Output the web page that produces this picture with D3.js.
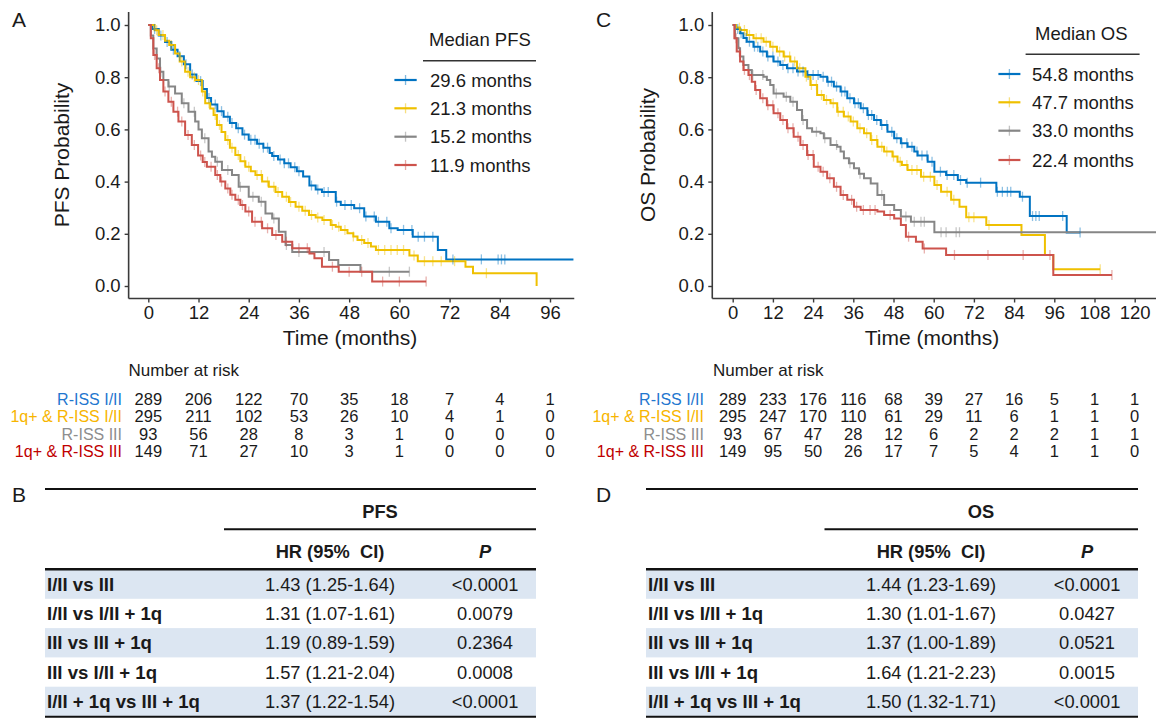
<!DOCTYPE html>
<html>
<head>
<meta charset="utf-8">
<script src="https://cdn.jsdelivr.net/npm/d3@7"></script>
<style>
  body { margin: 0; background: #fff; }
  svg text { font-family: "Liberation Sans", Arial, Helvetica, sans-serif; }
</style>
</head>
<body>
<svg id="fig" width="1156" height="718"></svg>
<script>
// ---------- groups ----------
const groupLabels = ["R-ISS I/II", "1q+ & R-ISS I/II", "R-ISS III", "1q+ & R-ISS III"];
const curveColors = ["#0073C2", "#EFC000", "#868686", "#CD534C"];
const labelColors = ["#1F77CF", "#F7B500", "#8E8E8E", "#C00000"];

// ---------- PFS (months, survival probability; step after) ----------
const pfsTicks = [0, 12, 24, 36, 48, 60, 72, 84, 96];
const pfsMedians = ["29.6 months", "21.3 months", "15.2 months", "11.9 months"];
const pfsRissI_II = [[0,1],[1,0.985],[2.5,0.96],[4,0.935],[5.5,0.905],[7,0.88],[8.5,0.85],[10,0.81],[11.5,0.785],[13,0.755],[14,0.72],[15,0.695],[16.5,0.67],[18,0.648],[19.5,0.625],[21,0.604],[22.5,0.58],[24,0.56],[26,0.545],[27.5,0.53],[29,0.51],[29.6,0.498],[31,0.485],[32.5,0.47],[34,0.455],[35.5,0.44],[37,0.42],[38.5,0.385],[40,0.37],[41.5,0.36],[44.8,0.323],[46,0.31],[49.2,0.298],[51.6,0.266],[54.4,0.246],[57.6,0.221],[59.6,0.215],[63.2,0.189],[69.2,0.138],[71.2,0.102]];
const pfs1qRissI_II = [[0,1],[1.5,0.98],[2.5,0.962],[4,0.94],[5,0.923],[6.4,0.891],[7.5,0.86],[8.8,0.821],[10,0.8],[11.2,0.789],[12.8,0.745],[13.6,0.7],[14.8,0.68],[15.6,0.655],[16.4,0.617],[17.5,0.59],[18.4,0.559],[19.5,0.53],[20.8,0.502],[22,0.478],[23.2,0.457],[24.5,0.44],[25.6,0.425],[27.2,0.4],[28.8,0.38],[30.4,0.36],[32,0.342],[33.6,0.322],[35.2,0.304],[36.8,0.288],[38.4,0.272],[40,0.262],[41.6,0.253],[43.6,0.234],[44.8,0.227],[46,0.215],[47.6,0.202],[49,0.19],[50,0.176],[51.6,0.165],[53.2,0.151],[54.4,0.138],[62.4,0.117],[64.4,0.095],[75.8,0.074],[77.6,0.049],[92.8,0]];
const pfsRissIII = [[0,1],[0.6,0.96],[1.2,0.91],[2,0.872],[2.8,0.821],[3.6,0.789],[4.8,0.764],[6.4,0.738],[8,0.7],[9.6,0.668],[11.2,0.63],[12,0.6],[12.8,0.566],[14.4,0.515],[15.2,0.495],[16,0.476],[17.6,0.444],[20,0.425],[21.6,0.38],[24,0.342],[26.4,0.323],[28,0.278],[29.6,0.259],[31.2,0.208],[32.8,0.157],[34.4,0.13],[43.2,0.1],[45.4,0.08],[50.7,0.055]];
const pfs1qRissIII = [[0,1],[0.6,0.949],[1.2,0.885],[2,0.834],[2.8,0.789],[3.6,0.745],[4.8,0.706],[6,0.668],[7.2,0.63],[8.8,0.579],[10.4,0.54],[11.9,0.5],[13,0.475],[14,0.457],[16,0.425],[17.2,0.4],[18.4,0.374],[19.6,0.35],[20.8,0.33],[22,0.31],[23.2,0.285],[24.8,0.246],[27.2,0.221],[29.6,0.195],[32,0.17],[34.4,0.145],[38.5,0.125],[39.7,0.106],[41.5,0.074],[45.5,0.055],[53.5,0.017]];
const pfsLastFollowUp = [101.6, 92.8, 62.4, 66.4];
const pfsCensorRissI_II = [1.5,3,4.5,6,7.5,9,10.5,12.5,14.5,16,17.5,19,20,21.5,23,24.5,25.5,26.5,27.5,28.5,30,31.5,32.5,33.5,35,36,39,40.5,42,43,45,47,48.5,50.5,52,54,55,57,58,61,63,64.5,66,68,72.8,79.6,83.6,84.4,85.2];
const pfsCensor1qRissI_II = [2,3.5,5.5,8,9.5,11,12,13,14.5,16,17,19,20,21.5,23,24,26,27,28.5,30,31,33,34,36,37.5,39,40.5,42,44,45.5,47,49,51,52.5,55,56.5,58,59.5,61,63.5,66,68,70,73.2,80.8];
const pfsCensorRissIII = [3,5,8.5,11,13.5,16.5,19,22,25,27,30,33,36,42,57.6,62.4];
const pfsCensor1qRissIII = [1.5,2.5,4,5.5,7,8,9.5,11,12.5,13.5,15,16.5,17.5,19,20,21.5,22.5,24,25.5,27,28.5,30.5,33,36,38,44,48,51,56,60,66.4];
const pfsAtRisk = [
  [289, 206, 122, 70, 35, 18, 7, 4, 1],
  [295, 211, 102, 53, 26, 10, 4, 1, 0],
  [93, 56, 28, 8, 3, 1, 0, 0, 0],
  [149, 71, 27, 10, 3, 1, 0, 0, 0]
];

// ---------- OS ----------
const osTicks = [0, 12, 24, 36, 48, 60, 72, 84, 96, 108, 120];
const osMedians = ["54.8 months", "47.7 months", "33.0 months", "22.4 months"];
const osRissI_II = [[0,1],[1,0.985],[2.2,0.968],[3.2,0.95],[4.2,0.936],[6.2,0.917],[8.2,0.898],[10.2,0.879],[12.2,0.86],[14.2,0.847],[16.2,0.834],[19.2,0.822],[22.2,0.808],[26.2,0.802],[28.2,0.783],[30.2,0.764],[32.2,0.745],[34.2,0.719],[36.2,0.7],[38.2,0.681],[40.2,0.655],[42.2,0.636],[44.2,0.617],[46.2,0.591],[48.2,0.566],[50.2,0.547],[52.2,0.534],[54.2,0.515],[55.2,0.5],[58.2,0.476],[60.2,0.438],[63.7,0.425],[67.2,0.406],[69.7,0.396],[78.7,0.361],[85.7,0.342],[88.7,0.268],[99.7,0.205]];
const os1qRissI_II = [[0,1],[1,0.99],[2.2,0.981],[4.2,0.962],[6.2,0.949],[9.2,0.936],[11.2,0.917],[13.2,0.898],[15.2,0.879],[17.2,0.86],[19.2,0.834],[21.7,0.802],[23.2,0.77],[25.2,0.732],[27.2,0.713],[29.2,0.7],[31.2,0.668],[33.2,0.649],[35.2,0.63],[37.2,0.604],[39.2,0.585],[41.2,0.559],[43.2,0.534],[45.2,0.515],[47.7,0.496],[49.2,0.476],[50.5,0.464],[52.2,0.444],[56.2,0.419],[60.2,0.387],[62.2,0.361],[65.2,0.33],[67.7,0.304],[69.7,0.263],[75.7,0.234],[86.2,0.195],[93.2,0.119],[95.7,0.064]];
const osRissIII = [[0,1],[0.7,0.949],[1.7,0.911],[2.2,0.879],[3.2,0.847],[4.7,0.828],[5.7,0.808],[9.2,0.802],[10.2,0.789],[11.2,0.77],[12.2,0.738],[15.2,0.725],[17.2,0.706],[19.2,0.674],[20.7,0.636],[22.2,0.604],[23.7,0.591],[26.2,0.585],[27.2,0.566],[29.2,0.54],[31.2,0.534],[32.2,0.515],[33.2,0.489],[34.7,0.47],[36.2,0.451],[37.7,0.43],[39.2,0.413],[41.2,0.393],[43.2,0.349],[45.2,0.31],[48.2,0.291],[50.2,0.266],[53.2,0.246],[60.2,0.206]];
const os1qRissIII = [[0,1],[0.5,0.949],[1.2,0.898],[2.2,0.86],[3.2,0.828],[4.7,0.808],[5.7,0.783],[6.7,0.751],[8.2,0.719],[10.2,0.693],[12.2,0.662],[14.2,0.636],[16.2,0.604],[18.2,0.572],[20.2,0.54],[22.2,0.502],[24.2,0.457],[26.2,0.438],[28.2,0.413],[30.2,0.38],[32.2,0.349],[34.2,0.33],[36.2,0.304],[38.2,0.291],[43.2,0.285],[45.2,0.272],[48.2,0.259],[50.2,0.234],[51.7,0.189],[54.7,0.17],[56.7,0.144],[63.7,0.119],[95.7,0.042]];
const osLastFollowUp = [103.7, 109.7, 127, 113.2];
const osCensorRissI_II = [1.5,2.5,4,5,6.5,7.5,9,10.5,12,13.5,15,16.5,18,19.5,21,22.5,24,25.5,27,28.5,29.5,31,32.5,33.5,35,36.5,37.5,39,40.5,41.5,43,44.5,46,47.5,49,50.5,52,53.5,55,56.5,58,59.5,62,64,66,68,70,74,79,80.5,82,83,86.5,89.5,90.5,91.5,98.5,103.7];
const osCensor1qRissI_II = [2,3.5,5,7,8.5,10,12,14,15.5,17,18.5,20,22,23.5,25,26.5,28,30,31.5,33,34.5,36,38,40,41.5,43,44.5,46,48,50,52,53.5,55,57,59,61,64,66,70.5,72,76.5,109.7];
const osCensorRissIII = [6,9,13,16,18,21,25,27.5,31,35,38,44.5,51.7,54.2,56.2,57.2,62.2,63.7,66.7,67.7];
const osCensor1qRissIII = [1,2,3.5,5,7,9,10.5,12,13.5,15,16.5,18,19.5,21,22.5,24,25.5,27,29,31,33,35.5,37,39,41,42.5,47,52.5,57.2,66.2,76.2,86.7,94.7,113.2];
const osAtRisk = [
  [289, 233, 176, 116, 68, 39, 27, 16, 5, 1, 1],
  [295, 247, 170, 110, 61, 29, 11, 6, 1, 1, 0],
  [93, 67, 47, 28, 12, 6, 2, 2, 2, 1, 1],
  [149, 95, 50, 26, 17, 7, 5, 4, 1, 1, 0]
];

// ---------- hazard ratio tables ----------
const comparisons = ["I/II vs III", "I/II vs I/II + 1q", "III vs III + 1q", "III vs I/II + 1q", "I/II + 1q vs III + 1q"];
const pfsHR = ["1.43 (1.25-1.64)", "1.31 (1.07-1.61)", "1.19 (0.89-1.59)", "1.57 (1.21-2.04)", "1.37 (1.22-1.54)"];
const pfsP = ["<0.0001", "0.0079", "0.2364", "0.0008", "<0.0001"];
const osHR = ["1.44 (1.23-1.69)", "1.30 (1.01-1.67)", "1.37 (1.00-1.89)", "1.64 (1.21-2.23)", "1.50 (1.32-1.71)"];
const osP = ["<0.0001", "0.0427", "0.0521", "0.0015", "<0.0001"];

// ---------- drawing ----------
const svg = d3.select("#fig");
const INK = "#1a1a1a";
const AXIS = "#3a3a3a";

function survAt(pts, t) {
  let s = 1;
  for (const p of pts) if (p[0] <= t) s = p[1];
  return s;
}

function drawKM(cfg) {
  const g = svg.append("g");
  const x = d3.scaleLinear().domain([0, cfg.ticks[cfg.ticks.length - 1]]).range(cfg.xRange);
  const y = d3.scaleLinear().domain([0, 1]).range([286, 25]);

  // panel letter
  g.append("text").attr("x", cfg.letterX).attr("y", 27).attr("font-size", 21)
    .attr("fill", INK).text(cfg.letter);

  // axis lines
  g.append("line").attr("x1", x(cfg.xExtent[0])).attr("x2", x(cfg.xExtent[1]))
    .attr("y1", 298.5).attr("y2", 298.5).attr("stroke", AXIS).attr("stroke-width", 1.6);
  g.append("line").attr("x1", x(cfg.xExtent[0])).attr("x2", x(cfg.xExtent[0]))
    .attr("y1", 12).attr("y2", 298.5).attr("stroke", AXIS).attr("stroke-width", 1.6);

  const xa = g.append("g").attr("transform", "translate(0,298.5)")
    .call(d3.axisBottom(x).tickValues(cfg.ticks).tickSize(4).tickPadding(3).tickFormat(d3.format("d")));
  const ya = g.append("g").attr("transform", `translate(${x(cfg.xExtent[0])},0)`)
    .call(d3.axisLeft(y).tickValues([0, 0.2, 0.4, 0.6, 0.8, 1]).tickSize(4).tickPadding(4).tickFormat(d3.format(".1f")));
  [xa, ya].forEach(a => {
    a.select(".domain").remove();
    a.selectAll(".tick line").attr("stroke", AXIS).attr("stroke-width", 1.4);
    a.selectAll(".tick text").attr("font-size", 18.5).attr("fill", INK)
      .attr("font-family", '"Liberation Sans", Arial, sans-serif');
  });

  // axis titles
  g.append("text").attr("x", cfg.xTitleX).attr("y", 344.5).attr("text-anchor", "middle")
    .attr("font-size", 21).attr("fill", INK).text("Time (months)");
  g.append("text").attr("transform", `translate(${cfg.yTitleX},155) rotate(-90)`)
    .attr("text-anchor", "middle").attr("font-size", 21).attr("fill", INK).text(cfg.yTitle);

  // curves
  const line = d3.line().curve(d3.curveStepAfter).x(d => x(d[0])).y(d => y(d[1]));
  cfg.curves.forEach((pts, i) => {
    const last = pts[pts.length - 1];
    const data = pts.concat([[cfg.ends[i], last[1]]]);
    g.append("path").attr("d", line(data)).attr("fill", "none")
      .attr("stroke", curveColors[i]).attr("stroke-width", 2);
  });
  // censoring marks
  cfg.censors.forEach((ts, i) => {
    g.selectAll(null).data(ts).enter().append("line")
      .attr("x1", t => x(t)).attr("x2", t => x(t))
      .attr("y1", t => y(survAt(cfg.curves[i], t)) - 5)
      .attr("y2", t => y(survAt(cfg.curves[i], t)) + 5)
      .attr("stroke", curveColors[i]).attr("stroke-width", 1.3).attr("stroke-opacity", 0.45);
  });

  // legend
  const L = cfg.legend;
  g.append("text").attr("x", L.titleX).attr("y", L.titleY + 6.5).attr("font-size", 18.5)
    .attr("fill", INK).text(L.title);
  g.append("line").attr("x1", L.ruleX[0]).attr("x2", L.ruleX[1]).attr("y1", L.ruleY).attr("y2", L.ruleY)
    .attr("stroke", "#333").attr("stroke-width", 1.6);
  cfg.medians.forEach((m, i) => {
    const yy = L.rows[i];
    g.append("line").attr("x1", L.keyX[0]).attr("x2", L.keyX[1]).attr("y1", yy).attr("y2", yy)
      .attr("stroke", curveColors[i]).attr("stroke-width", 2.2);
    g.append("line").attr("x1", (L.keyX[0] + L.keyX[1]) / 2).attr("x2", (L.keyX[0] + L.keyX[1]) / 2)
      .attr("y1", yy - 5).attr("y2", yy + 5)
      .attr("stroke", curveColors[i]).attr("stroke-width", 1.3).attr("stroke-opacity", 0.5);
    g.append("text").attr("x", L.textX).attr("y", yy + 6.5).attr("font-size", 18.5)
      .attr("fill", INK).text(m);
  });

  // number at risk
  g.append("text").attr("x", cfg.riskTitleX).attr("y", 375.5).attr("font-size", 17)
    .attr("fill", INK).text("Number at risk");
  const rowY = [399, 416.5, 434, 451.5];
  cfg.atRisk.forEach((row, i) => {
    g.append("text").attr("x", cfg.riskLabelX).attr("y", rowY[i] + 5.5).attr("text-anchor", "end")
      .attr("font-size", 16).attr("fill", labelColors[i]).text(groupLabels[i]);
    g.selectAll(null).data(row).enter().append("text")
      .attr("x", (d, j) => x(cfg.ticks[j])).attr("y", rowY[i] + 5.5)
      .attr("text-anchor", "middle").attr("font-size", 16.5).attr("fill", INK).text(d => d);
  });
}

drawKM({
  letter: "A", letterX: 12, ticks: pfsTicks, xRange: [148.3, 550], xExtent: [-4.7, 101.8],
  xTitleX: 350, yTitleX: 69, yTitle: "PFS Probability",
  curves: [pfsRissI_II, pfs1qRissI_II, pfsRissIII, pfs1qRissIII],
  ends: pfsLastFollowUp,
  censors: [pfsCensorRissI_II, pfsCensor1qRissI_II, pfsCensorRissIII, pfsCensor1qRissIII],
  medians: pfsMedians, atRisk: pfsAtRisk, riskTitleX: 128.5, riskLabelX: 122,
  legend: { title: "Median PFS", titleX: 429, titleY: 39, ruleX: [423, 536], ruleY: 60.7,
            keyX: [394.4, 416.7], textX: 430, rows: [80, 108.3, 136.7, 165] }
});

drawKM({
  letter: "C", letterX: 596, ticks: osTicks, xRange: [732.7, 1134.7], xExtent: [-6.1, 127],
  xTitleX: 932, yTitleX: 655, yTitle: "OS Probability",
  curves: [osRissI_II, os1qRissI_II, osRissIII, os1qRissIII],
  ends: osLastFollowUp,
  censors: [osCensorRissI_II, osCensor1qRissI_II, osCensorRissIII, osCensor1qRissIII],
  medians: osMedians, atRisk: osAtRisk, riskTitleX: 713, riskLabelX: 704,
  legend: { title: "Median OS", titleX: 1035, titleY: 33, ruleX: [1025.6, 1139.6], ruleY: 54.3,
            keyX: [998.4, 1020.4], textX: 1032, rows: [74, 102.3, 130.7, 160] }
});

// ---------- HR tables ----------
function drawTable(cfg) {
  const g = svg.append("g");
  const rowTop = d3.range(comparisons.length).map(i => 569.5 + i * 29.3);
  const rowH = 29.3;
  const FS = 18.3;
  g.append("text").attr("x", cfg.letterX).attr("y", 502).attr("font-size", 21).attr("fill", INK).text(cfg.letter);

  comparisons.forEach((c, i) => {
    if (i % 2 === 0) {
      g.append("rect").attr("x", cfg.x0).attr("y", rowTop[i]).attr("width", cfg.x1 - cfg.x0)
        .attr("height", rowH).attr("fill", "#DCE6F2");
    }
    const cy = rowTop[i] + rowH / 2 + 6.5;
    g.append("text").attr("x", cfg.x0 + 2).attr("y", cy).attr("font-size", 18.6)
      .attr("font-weight", "bold").attr("fill", INK).text(c);
    g.append("text").attr("x", cfg.hrX).attr("y", cy).attr("text-anchor", "middle")
      .attr("font-size", FS).attr("fill", INK).text(cfg.hr[i]);
    g.append("text").attr("x", cfg.pX).attr("y", cy).attr("text-anchor", "middle")
      .attr("font-size", FS).attr("fill", INK).text(cfg.p[i]);
  });

  // rules
  const rule = (x1, x2, yy, w) => g.append("line").attr("x1", x1).attr("x2", x2)
    .attr("y1", yy).attr("y2", yy).attr("stroke", "#111").attr("stroke-width", w);
  rule(cfg.x0, cfg.x1, 489, 2);
  rule(cfg.subX, cfg.x1, 529.3, 2);
  rule(cfg.x0, cfg.x1, 569.3, 2.6);
  rule(cfg.x0, cfg.x1, 716.8, 2);

  // headers
  g.append("text").attr("x", cfg.headX).attr("y", 517.5).attr("text-anchor", "middle")
    .attr("font-size", FS).attr("font-weight", "bold").attr("fill", INK).text(cfg.title);
  g.append("text").attr("x", cfg.hrX).attr("y", 557.5).attr("text-anchor", "middle")
    .attr("font-size", FS).attr("font-weight", "bold").attr("fill", INK)
    .attr("xml:space", "preserve").style("white-space", "pre").text("HR (95%  CI)");
  g.append("text").attr("x", cfg.pX).attr("y", 557.5).attr("text-anchor", "middle")
    .attr("font-size", FS).attr("font-weight", "bold").attr("font-style", "italic")
    .attr("fill", INK).text("P");
}

drawTable({ letter: "B", letterX: 12, x0: 45, x1: 536, subX: 224, headX: 380, hrX: 330, pX: 485,
            title: "PFS", hr: pfsHR, p: pfsP });
drawTable({ letter: "D", letterX: 596, x0: 646, x1: 1138, subX: 824.5, headX: 981, hrX: 931, pX: 1087,
            title: "OS", hr: osHR, p: osP });
</script>
</body>
</html>
